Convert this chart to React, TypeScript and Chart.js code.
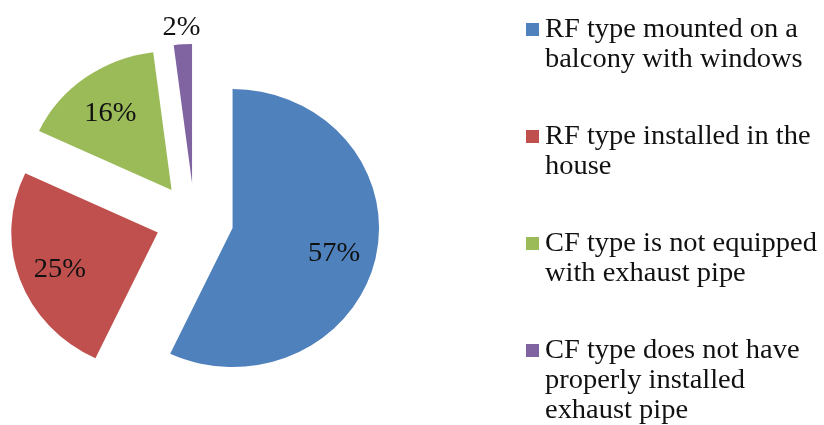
import React, { useEffect, useRef } from "react";
import { Chart, registerables } from "chart.js";

Chart.register(...registerables);

// ---- data ----
const categories: string[][] = [
  ["RF type mounted on a", "balcony with windows"],
  ["RF type installed in the", "house"],
  ["CF type is not equipped", "with exhaust pipe"],
  ["CF type does not have", "properly installed", "exhaust pipe"],
];
const values: number[] = [57, 25, 16, 2];
const colors: string[] = ["#4F81BD", "#C0504D", "#9BBB59", "#8064A2"];

// ---- style / layout constants ----
const FONT = "'Liberation Serif', 'Times New Roman', serif";
const RADIUS = 139;
const EXPLODE = 37;
const STRETCH_X = 1.054;
const LABEL_FONT = 27;
const LEGEND_FONT = 27;
const LEGEND_X = 526;
const LEGEND_TOP = 37;
const LEGEND_STEP = 107;
const LEGEND_LINE = 30;
const LEGEND_BOX = 13;

const explodedPie = {
  id: "explodedPie",
  beforeDatasetDraw(chart: any, args: any) {
    const ctx = chart.ctx;
    const meta = args.meta;
    meta.data.forEach((arc: any) => {
      const { x, y, startAngle, endAngle } = arc.getProps(["x", "y", "startAngle", "endAngle"]);
      const mid = (startAngle + endAngle) / 2;
      ctx.save();
      ctx.translate(x, y);
      ctx.scale(STRETCH_X, 1);
      ctx.translate(Math.cos(mid) * EXPLODE, Math.sin(mid) * EXPLODE);
      ctx.translate(-x, -y);
      arc.draw(ctx);
      ctx.restore();
    });
    return false;
  },
  afterDraw(chart: any) {
    const ctx = chart.ctx;
    const meta = chart.getDatasetMeta(0);
    const ds = chart.data.datasets[0];
    ctx.save();
    // data labels
    ctx.font = `${LABEL_FONT}px ${FONT}`;
    ctx.fillStyle = "#111";
    ctx.textAlign = "center";
    ctx.textBaseline = "middle";
    meta.data.forEach((arc: any, i: number) => {
      const { x, y, startAngle, endAngle, outerRadius } = arc.getProps([
        "x",
        "y",
        "startAngle",
        "endAngle",
        "outerRadius",
      ]);
      const mid = (startAngle + endAngle) / 2;
      const v = ds.data[i] as number;
      const k = v < 5 ? 1.15 : 0.71;
      const d = EXPLODE + k * outerRadius;
      const lx = x + STRETCH_X * Math.cos(mid) * d;
      const ly = y + Math.sin(mid) * d + 4;
      ctx.save();
      ctx.translate(lx, ly);
      ctx.scale(STRETCH_X, 1);
      ctx.fillText(`${v}%`, 0, 0);
      ctx.restore();
    });
    // legend
    ctx.font = `${LEGEND_FONT}px ${FONT}`;
    ctx.textAlign = "left";
    ctx.textBaseline = "alphabetic";
    (chart.data.labels as string[][]).forEach((lines, i) => {
      const by = LEGEND_TOP + i * LEGEND_STEP;
      ctx.fillStyle = (ds.backgroundColor as string[])[i];
      ctx.fillRect(LEGEND_X, by - 14, LEGEND_BOX, LEGEND_BOX);
      ctx.fillStyle = "#111";
      lines.forEach((line, j) => {
        ctx.save();
        ctx.translate(LEGEND_X + LEGEND_BOX + 6, by + j * LEGEND_LINE);
        ctx.scale(STRETCH_X, 1);
        ctx.fillText(line, 0, 0);
        ctx.restore();
      });
    });
    ctx.restore();
  },
};

export default function App() {
  const ref = useRef<HTMLCanvasElement | null>(null);
  useEffect(() => {
    if (!ref.current) return;
    const chart = new Chart(ref.current, {
      type: "pie",
      data: {
        labels: categories,
        datasets: [
          {
            data: values,
            backgroundColor: colors,
            borderWidth: 0,
            radius: RADIUS,
          } as any,
        ],
      },
      options: {
        animation: false,
        responsive: true,
        maintainAspectRatio: false,
        events: [],
        layout: { padding: { left: 0, right: 435, top: 15, bottom: 0 } },
        plugins: {
          legend: { display: false },
          tooltip: { enabled: false },
        },
      },
      plugins: [explodedPie],
    });
    return () => chart.destroy();
  }, []);
  return (
    <div
      style={{
        position: "fixed",
        left: 0,
        top: 0,
        width: 824,
        height: 425,
        background: "#fff",
      }}
    >
      <canvas ref={ref} />
    </div>
  );
}
